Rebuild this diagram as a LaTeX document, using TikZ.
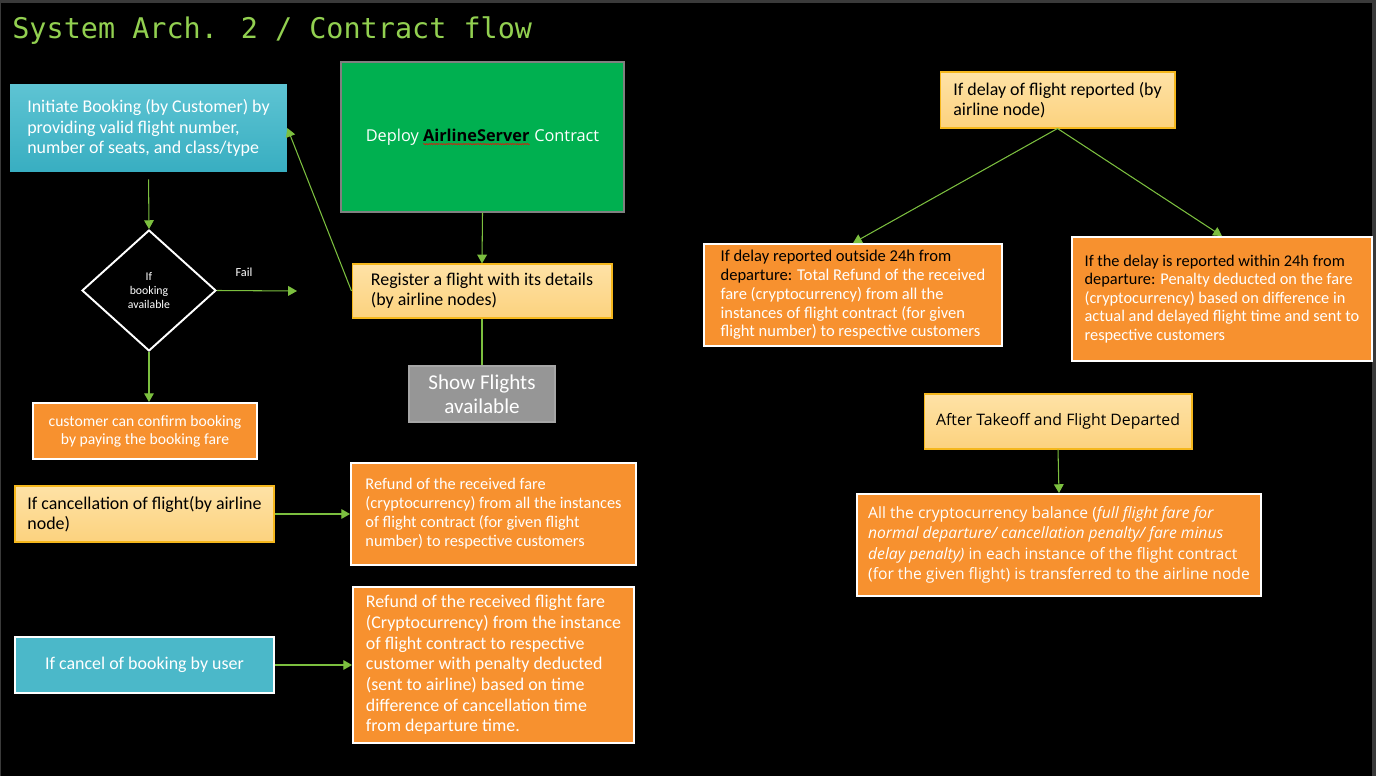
\documentclass[tikz,border=0pt]{standalone}
\usepackage{fontspec}
\setmainfont{Carlito}
\newfontfamily\segoe{Open Sans}
\newfontfamily\consol{DejaVu Sans Mono}
\usetikzlibrary{shapes.geometric,arrows.meta,decorations.pathmorphing}

\definecolor{titlegreen}{HTML}{92D050}
\definecolor{arrowgreen}{HTML}{7CBF3F}
\definecolor{tealblue}{HTML}{4BB8C9}
\definecolor{tealtop}{HTML}{5EC4D3}
\definecolor{tealbot}{HTML}{38AEC1}
\definecolor{deploygreen}{HTML}{00B050}
\definecolor{lighttop}{HTML}{FEE2A6}
\definecolor{lightbot}{HTML}{FCD27E}
\definecolor{goldline}{HTML}{F5B71C}
\definecolor{orangebox}{HTML}{F7912F}
\definecolor{showgray}{HTML}{969696}
\definecolor{framegray}{HTML}{3A3A3A}

\newsavebox\wavebox
\newcommand\spellwave[1]{\sbox\wavebox{#1}\rlap{\usebox\wavebox}\tikz[baseline=0pt]\draw[red, line width=0.3pt,
  decorate, decoration={snake, amplitude=0.35pt, segment length=1.4pt}] (0pt,-1.6pt) -- (\wd\wavebox,-1.6pt);}

\tikzset{
  flow/.style={draw=arrowgreen, line width=0.6pt, -{Triangle[width=5.5pt,length=5pt]}},
  plain/.style={draw=arrowgreen, line width=0.6pt},
  bluebox/.style={fill=tealblue, draw=white, line width=1.1pt, text=white},
  orangebox/.style={fill=orangebox, draw=white, line width=1.1pt, text=white},
  lightbox/.style={top color=lighttop, bottom color=lightbot, draw=goldline, line width=0.6pt, text=black},
  decision/.style={diamond, draw=white, line width=1.1pt, fill=black, text=white, inner sep=0pt,
    minimum width=2.68cm, minimum height=2.42cm, align=center, font=\fontsize{6.7}{7.7}\selectfont},
}

\begin{document}
\begin{tikzpicture}[x=0.02cm,y=-0.02cm]
  \useasboundingbox (0,0) rectangle (1376,776);
  \fill[black] (0,0) rectangle (1376,776);
  \fill[framegray] (0,0) rectangle (1376,3);
  \fill[framegray] (0,0) rectangle (1,776);
  \fill[framegray] (1372,0) rectangle (1376,776);

  % title
  \node[anchor=base west, inner sep=0pt, text=titlegreen, font=\consol\fontsize{16.2}{18}\selectfont] (title) at (12,39) {System Arch. 2 / Contract flow};

  % left column
  \node[top color=tealtop, bottom color=tealbot, text=white, minimum width=5.54cm, minimum height=1.76cm,
    align=left, font=\fontsize{10.2}{11.7}\selectfont] (init) at (148.5,128)
    {Initiate Booking (by Customer) by\\providing valid flight number,\\number of seats, and class/type};
  \node[decision] (dia) at (149,290.5) {If\\booking\\available};
  \node[text=white, font=\fontsize{7}{8}\selectfont] (fail) at (244,272) {Fail};
  \coordinate (failend) at (297,291);
  \node[orangebox, minimum width=4.48cm, minimum height=1.12cm, align=center,
    font=\fontsize{8.9}{10.2}\selectfont] (confirm) at (145,431)
    {customer can confirm booking\\by paying the booking fare};
  \node[lightbox, minimum width=5.18cm, minimum height=1.12cm, align=left,
    font=\fontsize{10.2}{11.5}\selectfont] (cancelflt) at (144.5,514)
    {If cancellation of flight(by airline\\node)};
  \node[bluebox, minimum width=5.18cm, minimum height=1.12cm,
    font=\fontsize{10.2}{11.5}\selectfont] (cancelbk) at (144.5,665) {If cancel of booking by user};

  % middle column
  \node[fill=deploygreen, draw=gray, line width=0.8pt, text=white, minimum width=5.66cm, minimum height=3cm,
    font=\segoe\fontsize{9.3}{11}\selectfont] (deploy) at (482.5,137)
    {Deploy \textcolor{black}{\bfseries\spellwave{AirlineServer}} Contract};
  \node[lightbox, minimum width=5.2cm, minimum height=1.08cm, align=left,
    font=\fontsize{10.2}{11.5}\selectfont] (register) at (482,291)
    {Register a flight with its details\\(by airline nodes)};
  \node[fill=showgray, draw=gray!70!white, line width=0.8pt, text=white, minimum width=2.92cm, minimum height=1.12cm,
    align=center, font=\fontsize{12}{13.5}\selectfont] (show) at (482,394) {Show Flights\\available};
  \node[orangebox, minimum width=5.7cm, minimum height=2.04cm, align=left,
    font=\fontsize{9.3}{10.8}\selectfont] (refund1) at (493.5,514)
    {Refund of the received fare\\(cryptocurrency) from all the instances\\of flight contract (for given flight\\number) to respective customers};
  \node[orangebox, minimum width=5.62cm, minimum height=3.12cm, align=left,
    font=\fontsize{10.2}{11.8}\selectfont] (refund2) at (493.5,665)
    {Refund of the received flight fare\\(Cryptocurrency) from the instance\\of flight contract to respective\\customer with penalty deducted\\(sent to airline) based on time\\difference of cancellation time\\from departure time.};

  % right column
  \node[lightbox, minimum width=4.7cm, minimum height=1.12cm, align=left,
    font=\fontsize{10.2}{11.5}\selectfont] (delay) at (1057.5,100)
    {If delay of flight reported (by\\airline node)};
  \node[orangebox, minimum width=5.96cm, minimum height=2.04cm, align=left,
    font=\fontsize{9.4}{10.7}\selectfont] (outside) at (853,295)
    {\textcolor{black}{If delay reported outside 24h from}\\\textcolor{black}{departure:} Total Refund of the received\\fare (cryptocurrency) from all the\\instances of flight contract (for given\\flight number) to respective customers};
  \node[orangebox, minimum width=6cm, minimum height=2.48cm, align=left,
    font=\fontsize{9.3}{10.6}\selectfont] (within) at (1222,299)
    {\textcolor{black}{If the delay is reported within 24h from}\\\textcolor{black}{departure:} Penalty deducted on the fare\\(cryptocurrency) based on difference in\\actual and delayed flight time and sent to\\respective customers};
  \node[lightbox, minimum width=5.36cm, minimum height=1.1cm,
    font=\segoe\fontsize{9}{11}\selectfont] (takeoff) at (1058,421.5) {After Takeoff and Flight Departed};
  \node[orangebox, minimum width=8.08cm, minimum height=2.04cm, align=left,
    font=\segoe\fontsize{8.9}{11.7}\selectfont] (final) at (1059,545)
    {All the cryptocurrency balance (\textit{full flight fare for}\\\textit{normal departure/ cancellation penalty/ fare minus}\\\textit{delay penalty)} in each instance of the flight contract\\(for the given flight) is transferred to the airline node};

  % connectors
  \draw[flow, shorten <=4pt] (init.south) -- (dia.north);
  \draw[flow] (dia.east) -- (failend);
  \draw[flow] (dia.south) -- (dia.south |- confirm.north);
  \draw[flow] (deploy.south) -- (register.north);
  \draw[flow] (register.west) -- (init.east);
  \draw[plain] (register.south) -- (show.north);
  \draw[flow] (cancelflt.east) -- (refund1.west);
  \draw[flow] (cancelbk.east) -- (refund2.west);
  \draw[flow] (delay.south) -- (outside.north);
  \draw[flow] (delay.south) -- (within.north);
  \draw[flow] (takeoff.south) -- (final.north);
\end{tikzpicture}
\end{document}
